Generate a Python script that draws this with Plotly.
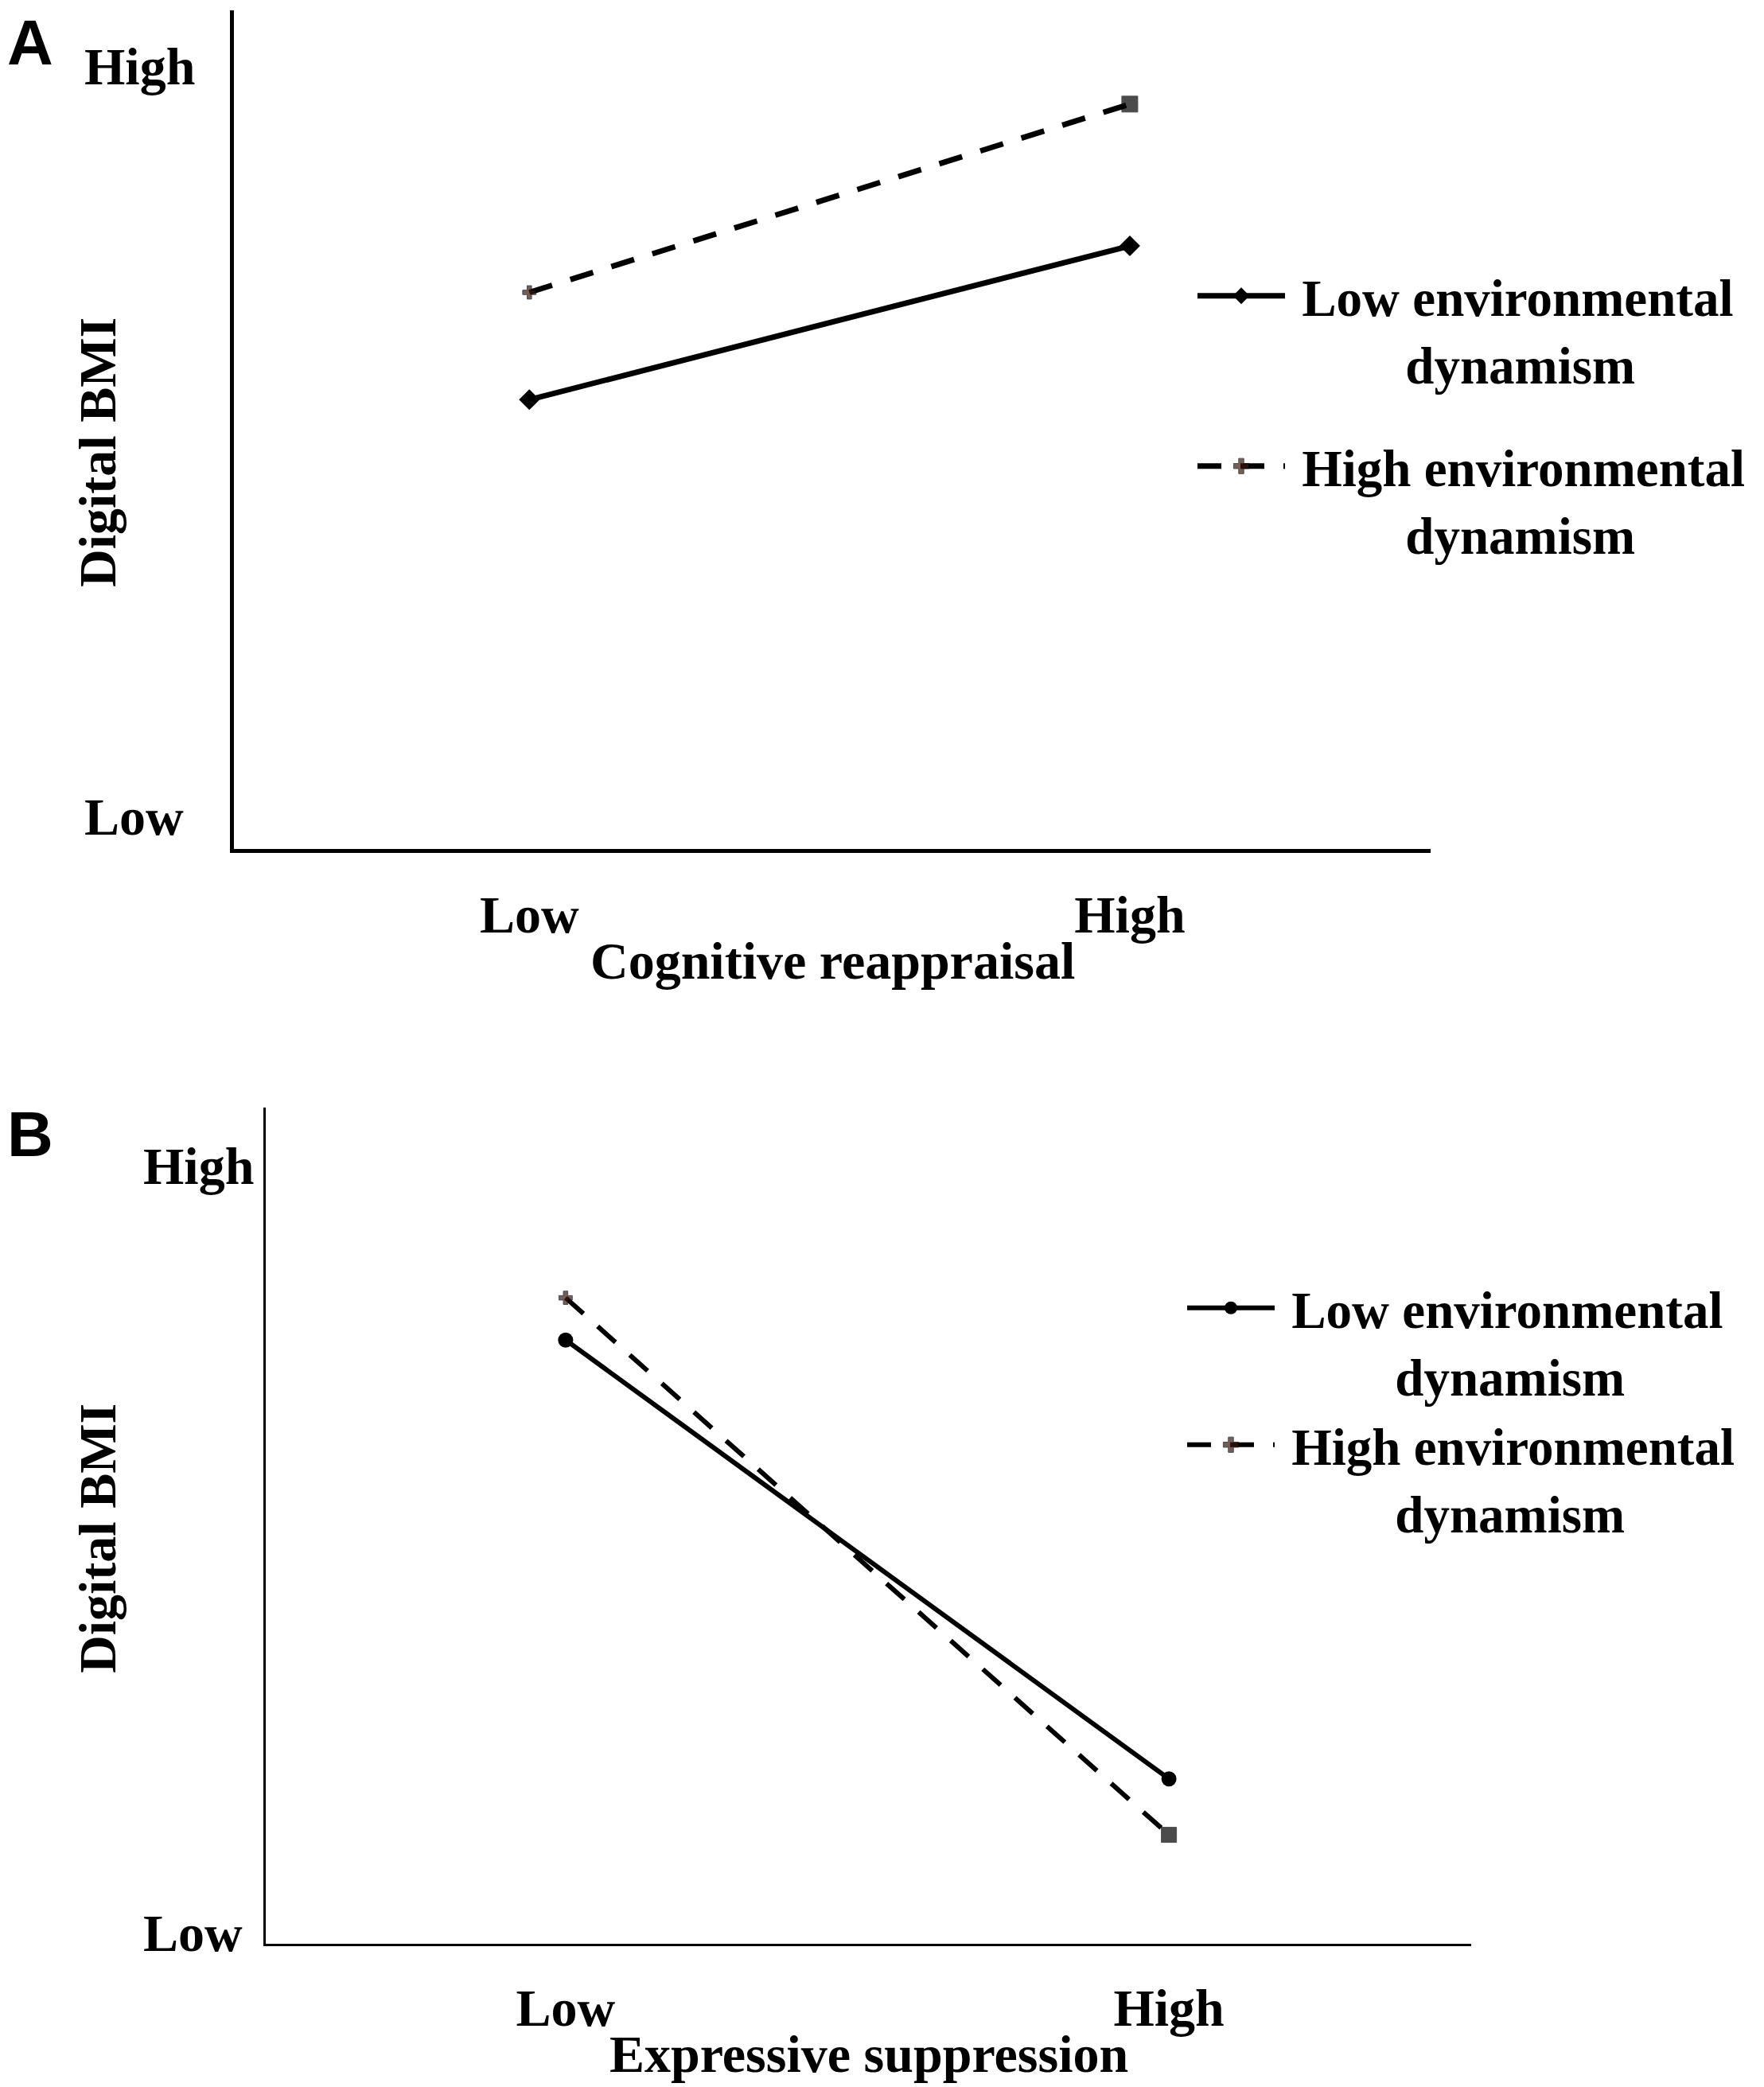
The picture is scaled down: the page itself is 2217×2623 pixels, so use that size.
import plotly.graph_objects as go

# page is offset by the default 8px body margin, so the figure is a bit smaller
FW, FH = 2217 - 8, 2623 - 8


def px(x):
    return (x - 8) / FW


def py(y):
    return 1 - (y - 8) / FH


# x categories shared by both panels
levels = [0, 1]
level_labels = ["Low", "High"]

# Panel A: Cognitive reappraisal -> Digital BMI (0 = Low, 1 = High)
a_low_dyn = [0.556, 0.761]
a_high_dyn = [0.699, 0.950]

# Panel B: Expressive suppression -> Digital BMI
b_low_dyn = [0.773, 0.201]
b_high_dyn = [0.828, 0.128]

NB = "\u00a0"
series_names = [NB + "Low environmental<br>" + NB * 9 + "dynamism",
                NB + "High environmental<br>" + NB * 9 + "dynamism"]

SERIF = "Liberation Serif"
SANS = "Liberation Sans"
FS = 66
cross_col = "#3a1a10"

fig = go.Figure()

# --- panel A
fig.add_trace(go.Scatter(
    x=levels, y=a_low_dyn, mode="lines+markers", name=series_names[0],
    line=dict(color="black", width=7),
    marker=dict(symbol="diamond", size=20, color="black"),
    xaxis="x", yaxis="y", legend="legend", legendgroup="a_low"))
fig.add_trace(go.Scatter(
    x=levels, y=a_high_dyn, mode="lines+markers", name=series_names[1],
    line=dict(color="black", width=7, dash="30px,24px"),
    marker=dict(symbol=["cross", "square"], size=[14, 20],
                color=[cross_col, "black"], line=dict(color="black", width=1)),
    xaxis="x", yaxis="y", legend="legend", legendgroup="a_high"))

# --- panel B
fig.add_trace(go.Scatter(
    x=levels, y=b_low_dyn, mode="lines+markers", name=series_names[0],
    line=dict(color="black", width=6),
    marker=dict(symbol="circle", size=19, color="black"),
    xaxis="x2", yaxis="y2", legend="legend2", legendgroup="b_low"))
fig.add_trace(go.Scatter(
    x=levels, y=b_high_dyn, mode="lines+markers", name=series_names[1],
    line=dict(color="black", width=6, dash="30px,24px"),
    marker=dict(symbol=["cross", "square"], size=[14, 19],
                color=[cross_col, "black"], line=dict(color="black", width=1)),
    xaxis="x2", yaxis="y2", legend="legend2", legendgroup="b_high"))

tick_font = dict(family=SERIF, size=FS, color="black", weight=700)
leg_font = dict(family=SERIF, size=65, color="black", weight=700)
xcommon = dict(tickvals=levels, ticktext=level_labels, tickfont=tick_font,
               showgrid=False, zeroline=False, ticks="", showline=True,
               linecolor="black", ticklabelstandoff=21, fixedrange=True)
ycommon = dict(showticklabels=False, showgrid=False, zeroline=False, ticks="",
               showline=True, linecolor="black", fixedrange=True)

fig.update_layout(
    width=FW, height=FH,
    margin=dict(l=0, r=0, t=0, b=0),
    paper_bgcolor="white", plot_bgcolor="white",
    xaxis=dict(xcommon, domain=[px(294), px(1798)], range=[-0.492, 1.501],
               anchor="y", linewidth=5),
    yaxis=dict(ycommon, domain=[py(1067), py(13)], range=[-0.043, 1.075],
               anchor="x", linewidth=5),
    xaxis2=dict(xcommon, domain=[px(334), px(1849)], range=[-0.497, 1.501],
                anchor="y2", linewidth=3),
    yaxis2=dict(ycommon, domain=[py(2443), py(1392)], range=[-0.014, 1.076],
                anchor="x2", linewidth=3),
    legend=dict(x=px(1500), y=py(323), xanchor="left", yanchor="top",
                font=leg_font, itemwidth=110, tracegroupgap=42, valign="top",
                bgcolor="rgba(0,0,0,0)"),
    legend2=dict(x=px(1487), y=py(1595), xanchor="left", yanchor="top",
                 font=leg_font, itemwidth=110, tracegroupgap=0, valign="top",
                 bgcolor="rgba(0,0,0,0)"),
    showlegend=True,
)

# y-axis end labels, axis titles, panel letters
ann = []
for yref, xl in (("y", 104), ("y2", 178)):
    for v, t in zip(levels, level_labels):
        ann.append(dict(x=px(xl), xref="paper", y=v, yref=yref, text=t,
                        xanchor="left", yanchor="middle", showarrow=False,
                        font=tick_font))
titles = [
    dict(x=px((294 + 1798) / 2), y=py(1208), text="Cognitive reappraisal"),
    dict(x=px((334 + 1849) / 2), y=py(2581), text="Expressive suppression"),
    dict(x=px(122), y=py(569), text="Digital BMI", textangle=-90),
    dict(x=px(122), y=py(1934), text="Digital BMI", textangle=-90),
]
for a in titles:
    a.update(xref="paper", yref="paper", xanchor="center", yanchor="middle",
             showarrow=False, font=tick_font)
letter_font = dict(family=SANS, size=80, color="black", weight=700)
letters = [
    dict(x=0, y=1, yanchor="top", text="A"),
    dict(x=0, y=py(1425), yanchor="middle", text="B"),
]
for a in letters:
    a.update(xref="paper", yref="paper", xanchor="left", showarrow=False,
             borderpad=0, font=letter_font)
fig.update_layout(annotations=ann + titles + letters)

fig.write_html("out.html")
